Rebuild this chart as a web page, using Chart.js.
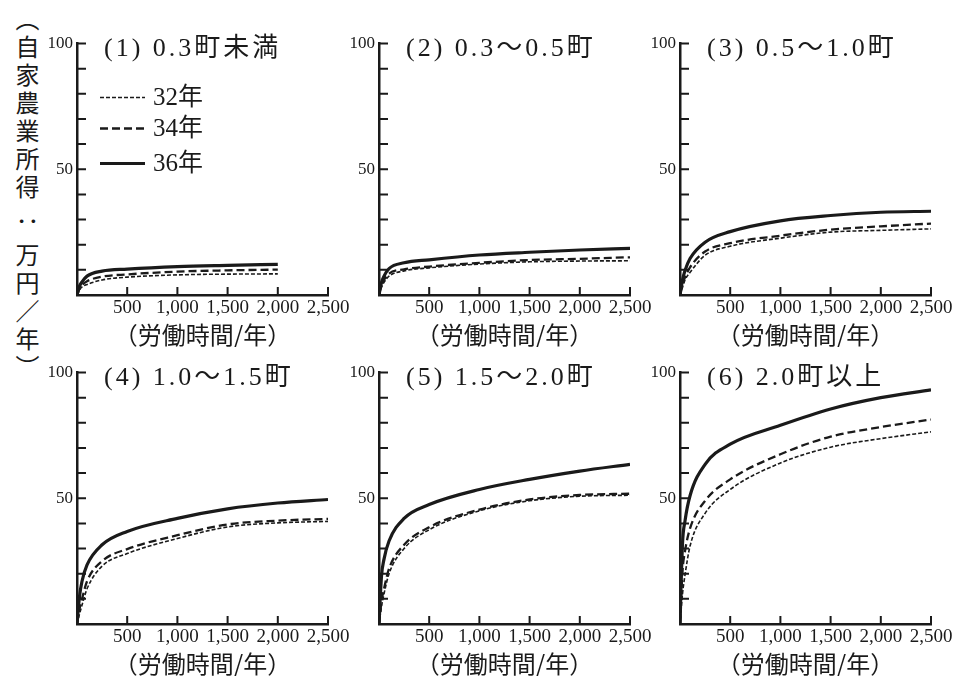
<!DOCTYPE html>
<html>
<head>
<meta charset="utf-8">
<script src="https://cdn.jsdelivr.net/npm/chart.js@4.4.1/dist/chart.umd.min.js"></script>
<style>
  body { margin: 0; background: #fff; width: 963px; height: 679px; position: relative; overflow: hidden; }
  canvas { position: absolute; }
  #ytitle {
    position: absolute; left: 10px; top: 7px;
    writing-mode: vertical-rl; line-height: 1;
    font: 24px "Noto Sans CJK JP"; letter-spacing: 4px; color: #1a1a1a;
  }
  #ytitle .colon { padding-top: 6px; padding-bottom: 6px; }
</style>
</head>
<body>
<div id="ytitle">（自家農業所得<span class="colon">：</span>万円／年）</div>
<canvas id="c0" width="326" height="316" style="left:32px;top:31px"></canvas>
<canvas id="c1" width="326" height="316" style="left:334px;top:31px"></canvas>
<canvas id="c2" width="326" height="316" style="left:635px;top:31px"></canvas>
<canvas id="c3" width="326" height="316" style="left:32px;top:360px"></canvas>
<canvas id="c4" width="326" height="316" style="left:334px;top:360px"></canvas>
<canvas id="c5" width="326" height="316" style="left:635px;top:360px"></canvas>
<script>
// 労働時間 (hours/year)
const hours = [0, 25, 50, 100, 250, 500, 1000, 1500, 2000, 2500];

const panelTitles = ['(1) 0.3町未満', '(2) 0.3～0.5町', '(3) 0.5～1.0町',
                     '(4) 1.0～1.5町', '(5) 1.5～2.0町', '(6) 2.0町以上'];
const seriesNames = ['32年', '34年', '36年'];

// 自家農業所得 (万円/年), one row per panel
const income32 = [
  [0, 2, 3.2, 4.2, 6.0, 7.1, 8.0, 8.3, 8.4, null],
  [0, 3, 5, 7.5, 9.6, 10.8, 12.3, 13.2, 13.5, 13.6],
  [0, 3, 6, 9, 15.8, 19.4, 22.6, 25.0, 25.7, 26.3],
  [0, 4, 7.5, 14, 23, 28, 34, 38.6, 40.2, 40.8],
  [0, 7, 12, 20, 30, 37.5, 45, 49, 50.8, 51.2],
  [0, 12, 19.5, 31, 44, 53.5, 64, 70.3, 73.7, 76.4]
];
const income34 = [
  [0, 2.5, 4, 5.5, 7.3, 8.2, 9.3, 9.8, 10.1, null],
  [0, 4, 6, 8.5, 10.2, 11.3, 12.8, 13.9, 14.4, 15.0],
  [0, 4, 7, 11, 17.3, 20.6, 23.6, 26.0, 27.3, 28.4],
  [0, 6, 10, 17, 25, 29.8, 35.3, 39.6, 41.1, 41.8],
  [0, 9, 14, 22, 31.5, 38.5, 45.5, 49.5, 51.3, 51.8],
  [0, 21, 29, 38, 49, 57.5, 67.5, 74.5, 78.3, 81.3]
];
const income36 = [
  [0, 3.5, 5.2, 7.5, 9.5, 10.3, 11.3, 11.8, 12.2, null],
  [0, 5, 7.5, 10.5, 12.8, 14, 15.9, 17, 17.9, 18.5],
  [0, 6, 9.7, 14.5, 21, 25.2, 29.5, 31.6, 32.9, 33.3],
  [0, 11, 17, 23.5, 31.5, 36.8, 42, 45.8, 48.1, 49.5],
  [0, 19, 25.8, 33, 42, 47.5, 53.5, 57.5, 60.8, 63.5],
  [0, 32, 41, 51, 63.5, 71.5, 79, 85.5, 90, 93.1]
];

const yLabelled = [50, 100];
const xTitle = '（労働時間/年）';

const ink = '#1a1a1a';
const serif = '"Liberation Serif", "Noto Sans CJK JP", serif';

const toPoints = (ys) => hours.map((h, k) => ({ x: h, y: ys[k] }));

// short tick marks drawn inside the axes
const innerTicks = {
  id: 'innerTicks',
  afterDraw(chart) {
    const { ctx, chartArea, scales: { x, y } } = chart;
    ctx.save();
    ctx.strokeStyle = ink;
    ctx.lineWidth = 2;
    ctx.beginPath();
    y.ticks.forEach(t => {
      if (t.value === 0) return;
      const py = y.getPixelForValue(t.value);
      ctx.moveTo(chartArea.left, py);
      ctx.lineTo(chartArea.left + 9, py);
    });
    x.ticks.forEach(t => {
      if (t.value === 0) return;
      const px = x.getPixelForValue(t.value);
      ctx.moveTo(px, chartArea.bottom);
      ctx.lineTo(px, chartArea.bottom - 8);
    });
    ctx.stroke();
    ctx.restore();
  }
};

// panel heading inside the plot, next to the 100 tick
const panelTitle = {
  id: 'panelTitle',
  afterDraw(chart, args, opts) {
    const { ctx, chartArea } = chart;
    ctx.save();
    ctx.fillStyle = ink;
    ctx.font = '26px ' + serif;
    ctx.letterSpacing = '3px';
    ctx.textBaseline = 'middle';
    ctx.fillText(opts.text, chartArea.left + 27, chartArea.top + 6);
    ctx.restore();
  }
};

// line key drawn from the dataset styles (first panel only)
const lineKey = {
  id: 'lineKey',
  afterDraw(chart, args, opts) {
    if (!opts.show) return;
    const { ctx, chartArea } = chart;
    const rows = [54, 85, 120];
    ctx.save();
    chart.data.datasets.forEach((ds, k) => {
      const py = chartArea.top + rows[k];
      ctx.strokeStyle = ink;
      ctx.lineWidth = ds.borderWidth;
      ctx.setLineDash(ds.borderDash || []);
      ctx.beginPath();
      ctx.moveTo(chartArea.left + 23, py);
      ctx.lineTo(chartArea.left + 68, py);
      ctx.stroke();
      ctx.setLineDash([]);
      ctx.fillStyle = ink;
      ctx.font = '25px ' + serif;
      ctx.textBaseline = 'middle';
      ctx.fillText(ds.label, chartArea.left + 76, py + 1);
    });
    ctx.restore();
  }
};

function makePanel(i) {
  const datasets = [
    { label: seriesNames[0], data: toPoints(income32[i]), borderDash: [4, 2], borderWidth: 1.6 },
    { label: seriesNames[1], data: toPoints(income34[i]), borderDash: [8, 4], borderWidth: 2.3 },
    { label: seriesNames[2], data: toPoints(income36[i]), borderWidth: 3.2 }
  ].map(ds => ({ ...ds, borderColor: ink, pointRadius: 0, cubicInterpolationMode: 'monotone', fill: false }));

  new Chart(document.getElementById('c' + i), {
    type: 'line',
    data: { datasets },
    plugins: [innerTicks, panelTitle, lineKey],
    options: {
      responsive: false,
      animation: false,
      devicePixelRatio: 1,
      layout: { padding: { top: 12, right: 30, left: 0, bottom: 0 } },
      plugins: {
        legend: { display: false },
        tooltip: { enabled: false },
        panelTitle: { text: panelTitles[i] },
        lineKey: { show: i === 0 }
      },
      scales: {
        x: {
          type: 'linear', min: 0, max: 2500,
          grid: { display: false, drawTicks: false },
          border: { color: ink, width: 2.5 },
          ticks: {
            stepSize: 500, autoSkip: false, maxRotation: 0, minRotation: 0,
            padding: 4, color: ink,
            font: { family: serif, size: 19, lineHeight: 1 },
            callback: v => v === 0 ? '' : v.toLocaleString('en-US')
          },
          title: {
            display: true, text: xTitle, color: ink, padding: 0,
            font: { family: '"Noto Sans CJK JP"', size: 24, lineHeight: 1 }
          },
          afterFit: s => { s.height = 52; }
        },
        y: {
          min: 0, max: 100,
          grid: { display: false, drawTicks: false },
          border: { color: ink, width: 2.5 },
          ticks: {
            stepSize: 10, autoSkip: false, padding: 4, color: ink,
            font: { family: serif, size: 17, lineHeight: 1 },
            callback: v => yLabelled.includes(v) ? String(v) : ''
          },
          afterFit: s => { s.width = 45; }
        }
      }
    }
  });
}

for (let i = 0; i < 6; i++) makePanel(i);
</script>
</body>
</html>
